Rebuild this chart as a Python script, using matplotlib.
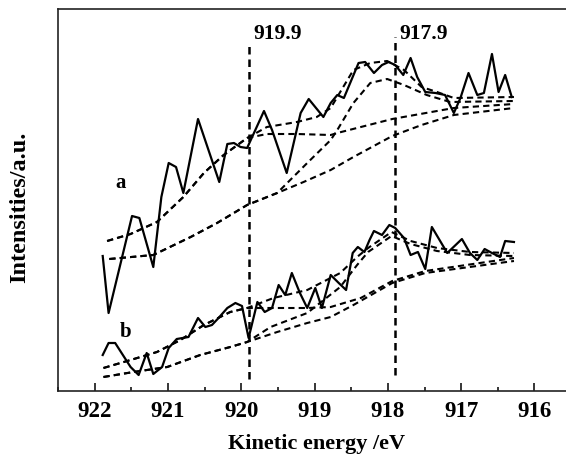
import matplotlib
matplotlib.use("Agg")
import matplotlib.pyplot as plt
from matplotlib.ticker import MultipleLocator

plt.rcParams['font.family'] = ['Liberation Serif', 'DejaVu Serif']
plt.rcParams['font.weight'] = 'bold'

# spectrum a (measured) and its fitted components
e_a = [921.89, 921.81, 921.49, 921.39, 921.20, 921.09, 920.99, 920.89, 920.79, 920.59,
       920.30, 920.19, 920.10, 920.01, 919.92, 919.69, 919.58, 919.38, 919.19, 919.08,
       918.88, 918.78, 918.69, 918.60, 918.40, 918.31, 918.19, 918.08, 917.99, 917.90,
       917.79, 917.69, 917.60, 917.49, 917.35, 917.22, 917.10, 917.01, 916.90, 916.78,
       916.69, 916.58, 916.49, 916.40, 916.31]
i_a = [135, 78, 175, 173, 124, 194, 228, 224, 198, 272,
       209, 247, 248, 244, 243, 280, 261, 218, 278, 292,
       274, 288, 296, 293, 328, 329, 318, 326, 329, 326,
       316, 333, 314, 299, 298, 296, 278, 293, 318, 296,
       298, 337, 299, 316, 294]

env_a_e = [921.83, 921.51, 921.15, 920.79, 920.51, 920.24, 919.92, 919.65, 919.24, 918.97,
           918.78, 918.65, 918.47, 918.24, 918.01, 917.78, 917.54, 917.33, 917.10, 916.28]
env_a_i = [150, 157, 169, 194, 218, 236, 253, 264, 269, 274,
           283, 299, 321, 328, 330, 321, 304, 299, 293, 294]

p1_a_e = [921.83, 921.51, 921.15, 920.79, 920.51, 920.24, 919.92, 919.65, 919.24, 918.78,
          918.69, 917.94, 917.10, 916.28]
p1_a_i = [150, 157, 169, 194, 218, 236, 253, 257, 257, 256,
          258, 272, 283, 287]

p2_a_e = [921.80, 921.20, 920.69, 920.33, 919.92, 919.51, 919.10, 918.78, 918.69, 918.47,
          918.24, 918.01, 917.78, 917.47, 917.15, 916.28]
p2_a_i = [132, 136, 154, 168, 186, 198, 228, 251, 261, 288,
          308, 312, 306, 296, 289, 290]

bg_a_e = [921.80, 921.20, 920.69, 920.33, 919.92, 919.51, 919.15, 918.78, 918.47, 917.94,
          917.54, 917.10, 916.28]
bg_a_i = [132, 136, 154, 168, 186, 198, 209, 221, 234, 255,
          266, 276, 283]

# spectrum b (measured) and its fitted components
e_b = [921.89, 921.81, 921.72, 921.51, 921.40, 921.29, 921.20, 921.08, 920.99, 920.88,
       920.72, 920.59, 920.49, 920.40, 920.31, 920.19, 920.08, 919.99, 919.90, 919.78,
       919.68, 919.58, 919.49, 919.40, 919.31, 919.20, 919.10, 918.99, 918.90, 918.78,
       918.67, 918.57, 918.48, 918.41, 918.32, 918.25, 918.19, 918.08, 917.98, 917.90,
       917.78, 917.69, 917.59, 917.49, 917.40, 917.19, 916.99, 916.88, 916.78, 916.68,
       916.58, 916.47, 916.40, 916.28]
i_b = [36, 48, 48, 24, 16, 38, 17, 24, 43, 52,
       54, 73, 64, 66, 73, 83, 88, 85, 53, 89,
       79, 83, 106, 96, 118, 98, 83, 103, 83, 116,
       108, 101, 138, 144, 139, 151, 160, 156, 166, 163,
       153, 136, 139, 122, 164, 138, 152, 138, 131, 142,
       138, 134, 150, 149]

env_b_e = [921.88, 921.51, 921.15, 920.83, 920.51, 920.15, 919.92, 919.56, 919.10, 918.65,
           918.42, 918.27, 917.95, 917.69, 917.33, 916.88, 916.28]
env_b_i = [23, 31, 39, 51, 66, 79, 83, 93, 101, 118,
           134, 143, 159, 150, 143, 139, 138]

p1_b_e = [921.88, 921.51, 921.15, 920.83, 920.51, 920.15, 919.92, 919.60, 919.10, 918.78,
          918.37, 917.94, 917.49, 916.28]
p1_b_i = [23, 31, 39, 51, 66, 79, 83, 83, 83, 84,
          93, 110, 120, 133]

p2_b_e = [921.88, 921.47, 921.01, 920.56, 920.15, 919.92, 919.60, 919.10, 918.65, 918.42,
          918.27, 917.95, 917.69, 917.33, 916.88, 916.28]
p2_b_i = [14, 19, 24, 36, 44, 49, 64, 78, 104, 126,
          139, 155, 147, 140, 136, 135]

bg_b_e = [921.88, 921.47, 921.01, 920.56, 920.15, 919.92, 919.51, 919.10, 918.78, 918.47,
          917.94, 917.49, 916.28]
bg_b_i = [14, 19, 24, 36, 44, 49, 59, 68, 74, 86,
          108, 118, 130]

peaks = [919.9, 917.9]
peak_labels = ['919.9', '917.9']

fig = plt.figure(figsize=(5.66, 4.59), dpi=100)
ax = fig.add_axes([58 / 566, 1 - 391 / 459, 1 - 58 / 566, 382 / 459])

dash = (0, (3, 2))
ax.plot(e_a, i_a, color='black', lw=1.6)
for xs, ys in [(env_a_e, env_a_i), (p1_a_e, p1_a_i), (p2_a_e, p2_a_i), (bg_a_e, bg_a_i)]:
    ax.plot(xs, ys, color='black', lw=1.5, linestyle=dash)

ax.plot(e_b, i_b, color='black', lw=1.6)
for xs, ys in [(env_b_e, env_b_i), (p1_b_e, p1_b_i), (p2_b_e, p2_b_i), (bg_b_e, bg_b_i)]:
    ax.plot(xs, ys, color='black', lw=1.5, linestyle=dash)

ax.vlines(peaks[0], 12, 349, colors='black', lw=1.8, linestyles=(0, (3, 2)))
ax.vlines(peaks[1], 16, 354, colors='black', lw=1.8, linestyles=(0, (3, 2)))
ax.text(919.835, 352, peak_labels[0], fontsize=15.5, fontweight='bold', ha='left', va='baseline')
ax.text(917.84, 352, peak_labels[1], fontsize=15.5, fontweight='bold', ha='left', va='baseline')

ax.text(921.65, 208, 'a', fontsize=15, fontweight='bold', ha='center', va='center')
ax.text(921.58, 59, 'b', fontsize=15, fontweight='bold', ha='center', va='center')

ax.set_xlim(922.5, 915.57)
ax.set_ylim(0, 382)
ax.xaxis.set_major_locator(MultipleLocator(1))
ax.xaxis.set_minor_locator(MultipleLocator(0.5))
ax.set_yticks([])
ax.tick_params(axis='x', which='major', direction='in', length=6, width=1.1,
               labelsize=16.5, pad=7)
ax.tick_params(axis='x', which='minor', direction='in', length=3, width=1.1)
for lab in ax.get_xticklabels():
    lab.set_fontweight('bold')

ax.spines['right'].set_visible(False)
for s in ['left', 'top', 'bottom']:
    ax.spines[s].set_linewidth(1.2)
    ax.spines[s].set_color('#222222')

ax.set_xlabel('Kinetic energy /eV', fontsize=16, fontweight='bold', va='center')
ax.xaxis.set_label_coords(0.508, -0.138)
ax.set_ylabel('Intensities/a.u.', fontsize=17.5, fontweight='bold', va='center')
ax.yaxis.set_label_coords(-0.075, 0.48)

fig.savefig('out.png', dpi=100)
